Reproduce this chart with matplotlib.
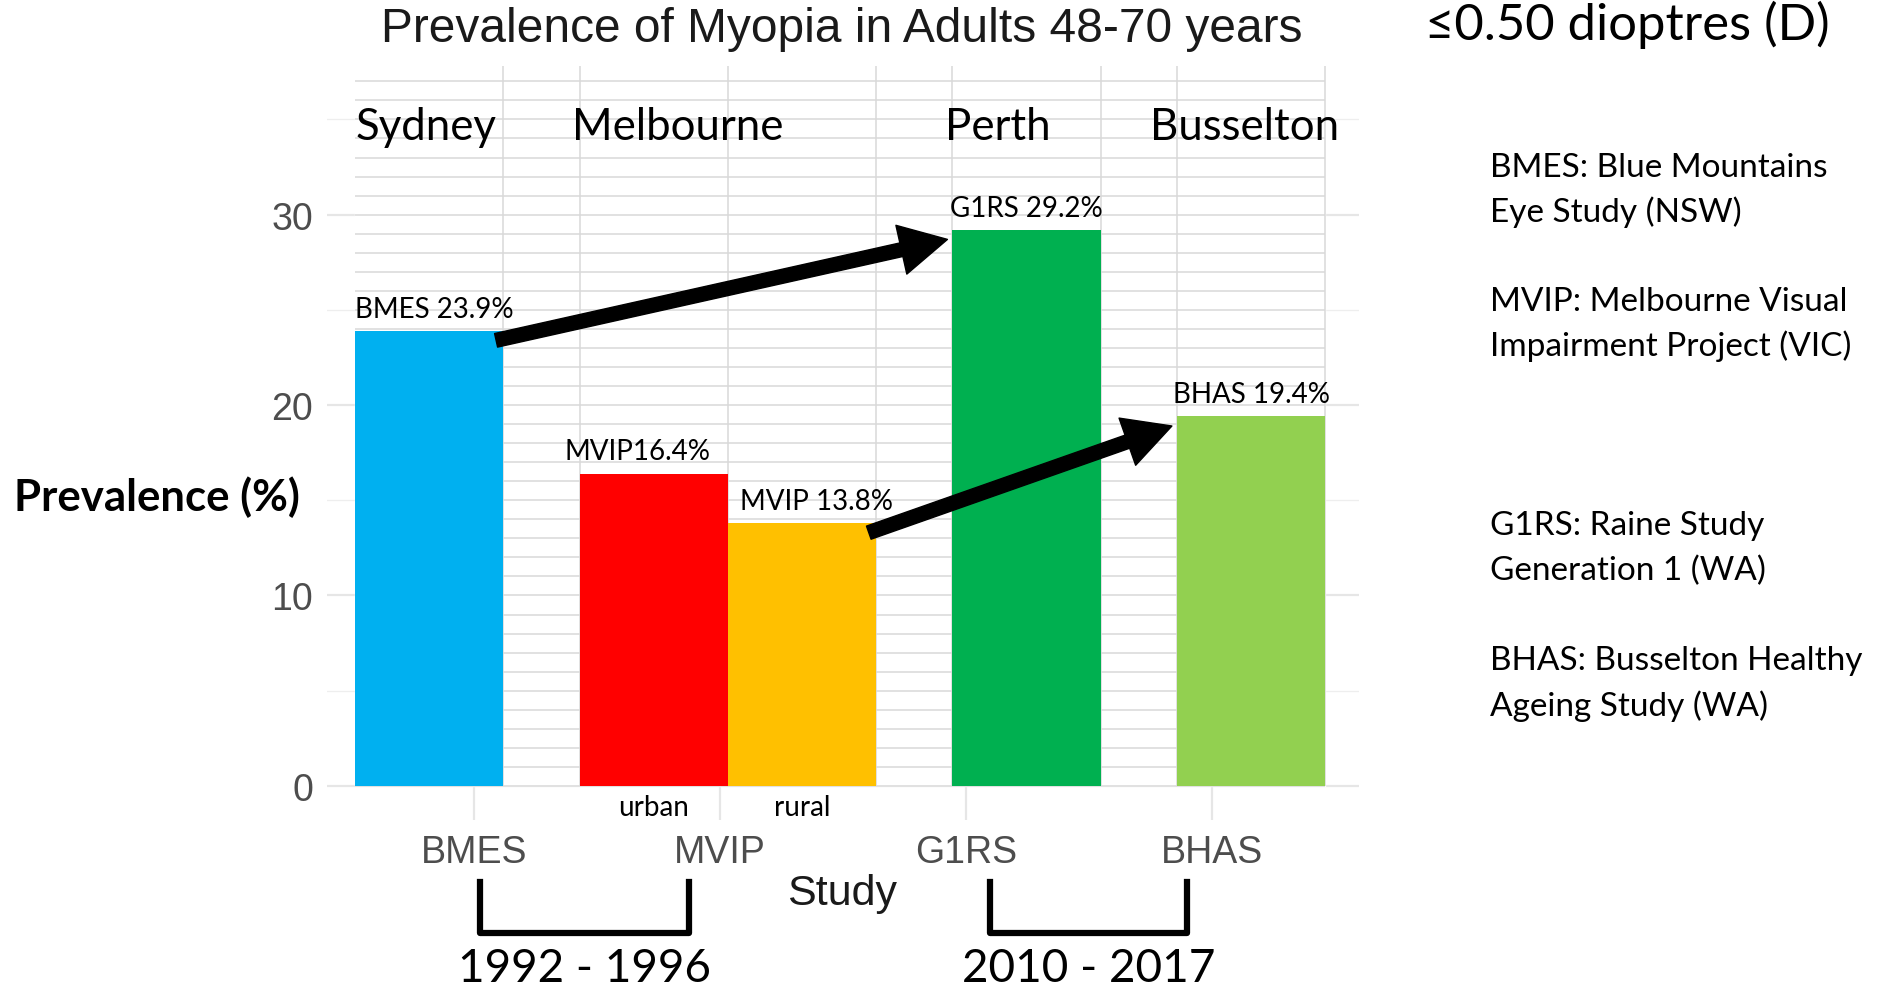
import numpy as np
import matplotlib.pyplot as plt
from matplotlib.lines import Line2D
from matplotlib.patches import Rectangle


# data
studies = ['BMES', 'MVIP', 'G1RS', 'BHAS']
prevalence = [23.9, 16.4, 13.8, 29.2, 19.4]       # BMES, MVIP urban, MVIP rural, G1RS, BHAS
bar_labels = ['BMES 23.9%', 'MVIP16.4%', 'MVIP 13.8%', 'G1RS 29.2%', 'BHAS 19.4%']
bar_tags = ['', 'urban', 'rural', '', '']
bar_colours = ['#00B0F0', '#FF0000', '#FFC000', '#00B050', '#92D050']
bar_group = [0, 1, 1, 2, 3]
cities = ['Sydney', 'Melbourne', 'Perth', 'Busselton']
periods = ['1992 - 1996', '2010 - 2017']
notes = [('BMES: Blue Mountains', 'Eye Study (NSW)'),
         ('MVIP: Melbourne Visual', 'Impairment Project (VIC)'),
         ('G1RS: Raine Study', 'Generation 1 (WA)'),
         ('BHAS: Busselton Healthy', 'Ageing Study (WA)')]

calibri_like = ['Lato', 'DejaVu Sans']
gg_font = ['Liberation Sans', 'DejaVu Sans']

# bar geometry (x in category units of the study axis)
w, gap, x_start = 0.603, 0.31, 0.515
left = x_start + np.arange(len(prevalence)) * w + np.array(bar_group) * gap
top = 37.8
label_shift = [0, -0.06, 0.05, -0.01, -0.015]   # labels sit a bit off the bar edge

fig = plt.figure(figsize=(18.78, 9.87), dpi=100)
ax = fig.add_axes([0.1741, 0.168, 0.5498, 0.764])
ax.set_xlim(0.4, 4.6)
ax.set_ylim(-1.8, top)

# ggplot style background grid
for y in [0, 10, 20, 30]:
    ax.axhline(y, color='#E6E6E6', lw=1.6, zorder=0)
for y in [5, 15, 25, 35]:
    ax.axhline(y, color='#EEEEEE', lw=0.9, zorder=0)
for x in range(1, len(studies) + 1):
    ax.axvline(x, color='#E6E6E6', lw=1.6, zorder=0)

# pasted chart panel with its own grid
x_end = left[-1] + w
ax.add_patch(Rectangle((left[0], 0), x_end - left[0], top, color='white', zorder=1))
ax.hlines(np.arange(0, 38), left[0], x_end, color='#D9D9D9', lw=1.1, zorder=1.5)
edges = np.unique(np.round(np.r_[left, left + w], 3))[1:]
ax.vlines(edges, 0, top, color='#D9D9D9', lw=1.1, zorder=1.5)

ax.bar(left, prevalence, width=w, align='edge', color=bar_colours, zorder=2)

for i, v in enumerate(prevalence):
    ax.text(left[i] + label_shift[i], v + 0.75, bar_labels[i], ha='left', va='baseline',
            fontsize=20, family=calibri_like, zorder=3)
    if bar_tags[i]:
        ax.text(left[i] + w / 2, -1.1, bar_tags[i], ha='center', va='center',
                fontsize=20, family=calibri_like, zorder=3)

# arrows between the study pairs
for a, b in [(0, 3), (2, 4)]:
    ax.annotate('', xy=(left[b] - 0.02, prevalence[b] - 0.5),
                xytext=(left[a] + w - 0.03, prevalence[a] - 0.5),
                arrowprops=dict(facecolor='black', edgecolor='black', width=10,
                                headwidth=36, headlength=34, shrink=0),
                zorder=4)

ax.set_xticks(range(1, len(studies) + 1), studies)
ax.set_yticks([0, 10, 20, 30])
ax.tick_params(length=0, colors='#4D4D4D', labelsize=27, pad=10)
for lab in ax.get_xticklabels() + ax.get_yticklabels():
    lab.set_family(gg_font)
for s in ax.spines.values():
    s.set_visible(False)

# titles and annotations
fig.text(0.4483, 0.9705, 'Prevalence of Myopia in Adults 48-70 years', ha='center', va='center',
         fontsize=34.5, family=gg_font, color='#1A1A1A')
fig.text(0.4483, 0.094, 'Study', ha='center', va='center', fontsize=31, family=gg_font, color='#1A1A1A')
fig.text(0.759, 0.975, '≤0.50 dioptres (D)', ha='left', va='center', fontsize=36.5, family=calibri_like)
fig.text(0.0077, 0.4964, 'Prevalence (%)', ha='left', va='center', fontsize=31.5,
         family=calibri_like, fontweight='bold')

for name, x in zip(cities, [0.1894, 0.3048, 0.5032, 0.6122]):
    fig.text(x, 0.871, name, ha='left', va='center', fontsize=31.5, family=calibri_like)

for (l1, l2), y in zip(notes, [0.830, 0.694, 0.467, 0.330]):
    fig.text(0.7934, y, l1, ha='left', va='center', fontsize=24, family=calibri_like)
    fig.text(0.7934, y - 0.045, l2, ha='left', va='center', fontsize=24, family=calibri_like)

# brackets under the study axis
for (x0, x1), xc, label in zip([(0.2557, 0.3667), (0.5274, 0.6318)], [0.3112, 0.5797], periods):
    fig.add_artist(Line2D([x0, x0, x1, x1], [0.1056, 0.0534, 0.0534, 0.1056],
                          transform=fig.transFigure, color='black', lw=4.5,
                          solid_joinstyle='round'))
    fig.text(xc, 0.018, label, ha='center', va='center', fontsize=33, family=calibri_like)

fig.savefig('out.png', dpi=100)
